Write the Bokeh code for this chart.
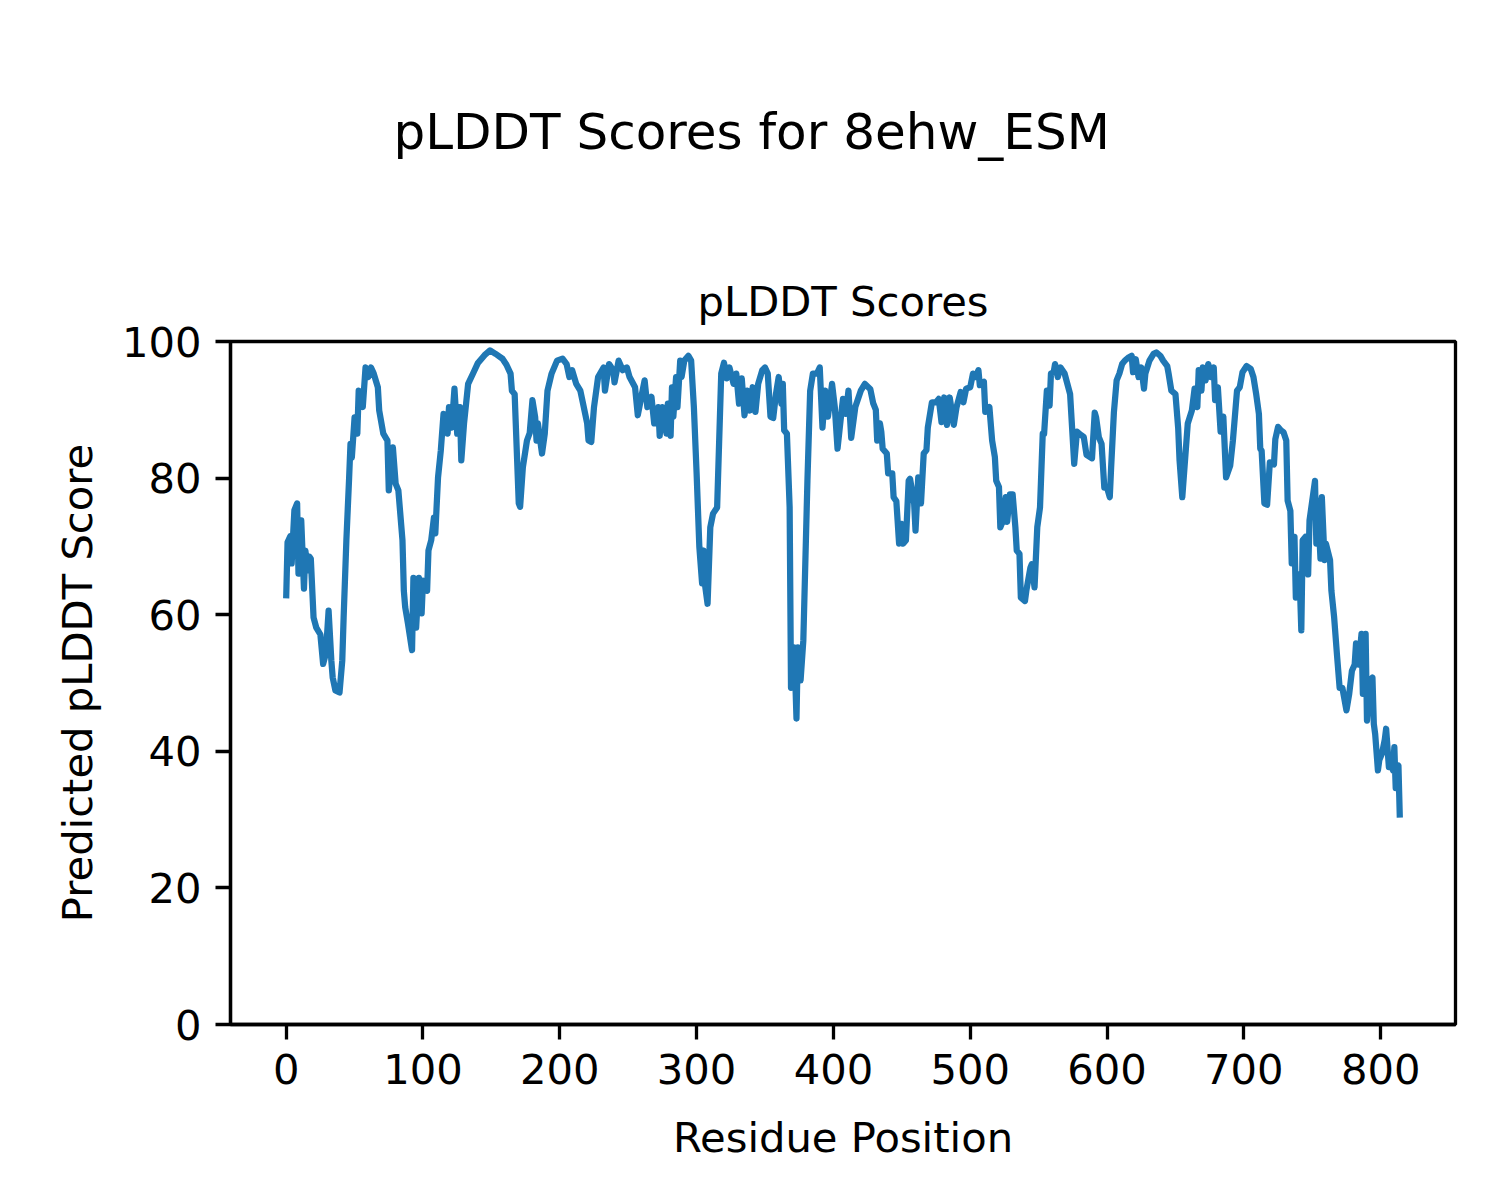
from bokeh.plotting import figure
from bokeh.models import Range1d, FixedTicker, Title, ColumnDataSource
from bokeh.embed import file_html
from bokeh.resources import INLINE

# ---- data ----
residues = [
    0, 1, 3, 4, 6, 8, 9, 10, 11, 13, 14, 16, 17, 18, 20, 22, 25, 27, 29, 31,
    33, 34, 36, 39, 41, 42, 44, 46, 47, 48, 50, 52, 53, 56, 58, 60, 62, 64, 67, 68,
    71, 74, 75, 78, 80, 82, 85, 86, 87, 89, 92, 93, 95, 97, 99, 100, 103, 104, 106, 108,
    109, 111, 113, 115, 118, 119, 121, 123, 125, 127, 128, 130, 133, 137, 140, 145, 149, 153, 158, 161,
    164, 165, 167, 170, 171, 173, 176, 178, 180, 182, 183, 184, 187, 189, 191, 194, 198, 202, 205, 207,
    209, 212, 215, 217, 220, 221, 223, 225, 228, 232, 233, 236, 239, 240, 243, 246, 249, 251, 255, 257,
    260, 262, 264, 267, 269, 272, 273, 275, 278, 279, 281, 282, 283, 285, 286, 288, 289, 291, 294, 296,
    298, 300, 302, 304, 305, 306, 308, 310, 312, 315, 318, 320, 322, 324, 327, 329, 331, 333, 335, 337,
    339, 341, 343, 345, 348, 350, 352, 354, 356, 358, 360, 362, 363, 364, 366, 368, 369, 371, 372, 373,
    374, 376, 378, 381, 383, 385, 388, 390, 392, 394, 396, 399, 401, 403, 406, 407, 409, 411, 413, 416,
    420, 423, 427, 429, 431, 432, 434, 435, 436, 439, 440, 443, 444, 446, 448, 450, 451, 453, 455, 456,
    459, 460, 462, 464, 466, 468, 469, 472, 475, 477, 479, 481, 483, 485, 488, 490, 493, 495, 497, 500,
    502, 504, 506, 507, 510, 511, 514, 516, 518, 519, 521, 522, 524, 526, 527, 529, 531, 533, 534, 536,
    537, 540, 541, 544, 545, 547, 549, 551, 553, 554, 556, 558, 559, 561, 562, 564, 566, 569, 571, 573,
    575, 576, 578, 581, 583, 585, 589, 591, 592, 594, 596, 598, 600, 602, 603, 605, 607, 609, 611, 613,
    616, 618, 619, 621, 623, 625, 627, 628, 631, 634, 636, 639, 641, 644, 645, 647, 650, 652, 653, 655,
    657, 659, 662, 664, 666, 667, 669, 670, 672, 674, 676, 678, 679, 681, 683, 685, 687, 690, 692, 695,
    697, 699, 702, 705, 707, 709, 711, 712, 713, 715, 717, 719, 722, 723, 725, 727, 729, 731, 732, 734,
    735, 737, 738, 740, 741, 742, 743, 745, 747, 748, 750, 752, 753, 754, 756, 757, 759, 760, 763, 764,
    766, 768, 770, 772, 775, 777, 779, 781, 782, 784, 786, 787, 789, 790, 792, 794, 795, 796, 798, 799,
    801, 803, 804, 806, 807, 809, 810, 811, 812, 813, 814,
]
plddt = [
    62.4, 70.6, 71.5, 67.5, 75.3, 76.3, 66.0, 70.0, 73.8, 63.8, 69.4, 66.5, 68.5, 68.2, 59.6, 58.1, 57.1, 52.8, 54.3, 60.6,
    53.3, 50.8, 48.9, 48.6, 53.3, 59.6, 70.9, 80.0, 85.0, 83.0, 88.9, 86.5, 92.8, 90.4, 96.2, 94.8, 96.2, 95.3, 93.3, 89.9,
    86.5, 85.5, 78.2, 84.5, 79.2, 78.2, 70.9, 63.5, 61.1, 58.7, 54.8, 65.4, 58.1, 65.4, 60.2, 65.0, 63.5, 69.4, 70.9, 74.2,
    71.9, 80.1, 84.0, 89.4, 86.5, 90.4, 87.4, 93.1, 86.5, 90.4, 82.6, 88.0, 93.8, 95.5, 96.8, 98.0, 98.7, 98.2, 97.5, 96.6,
    95.3, 92.8, 92.3, 76.3, 75.8, 81.6, 85.5, 86.6, 91.4, 88.9, 85.5, 88.0, 83.6, 86.5, 92.8, 95.3, 97.2, 97.5, 96.7, 94.8,
    95.8, 93.8, 92.8, 90.9, 88.0, 85.5, 85.3, 90.4, 94.8, 96.2, 92.8, 96.7, 95.8, 94.0, 97.2, 95.8, 96.2, 94.8, 93.3, 89.2,
    92.3, 94.3, 90.4, 91.9, 88.0, 90.4, 86.2, 90.4, 86.5, 90.9, 86.2, 93.3, 89.0, 94.8, 90.4, 97.2, 94.8, 97.2, 97.9, 97.2,
    90.4, 80.7, 69.9, 64.6, 69.4, 64.6, 61.6, 72.8, 74.8, 75.7, 95.3, 96.9, 94.6, 96.2, 93.8, 95.3, 90.9, 94.6, 89.2, 92.8,
    89.9, 93.3, 89.7, 93.8, 95.8, 96.2, 95.3, 89.0, 88.8, 92.3, 94.8, 90.9, 93.8, 87.0, 86.5, 75.7, 49.3, 55.2, 51.3, 44.8,
    55.2, 50.4, 56.2, 79.6, 92.8, 95.3, 95.3, 96.2, 87.4, 92.8, 89.0, 93.8, 90.4, 84.3, 89.9, 91.6, 89.4, 92.8, 85.9, 90.4,
    92.8, 93.8, 93.0, 91.0, 90.0, 85.5, 88.0, 86.8, 84.3, 83.6, 80.7, 80.7, 77.2, 76.6, 70.4, 73.3, 70.4, 70.9, 79.6, 79.9,
    76.3, 72.3, 80.1, 76.3, 83.6, 84.1, 87.4, 91.1, 91.1, 91.6, 88.2, 91.8, 87.8, 91.8, 87.8, 90.4, 92.6, 91.1, 93.1, 93.3,
    95.3, 94.8, 95.8, 93.6, 94.1, 89.7, 90.4, 85.5, 83.1, 79.6, 78.7, 72.8, 73.8, 77.2, 73.6, 77.6, 77.6, 72.8, 69.4, 68.9,
    62.5, 62.0, 63.5, 66.9, 67.4, 64.0, 72.8, 75.7, 86.5, 86.5, 92.8, 90.6, 95.3, 95.5, 96.7, 94.8, 96.2, 95.3, 93.8, 92.3,
    85.5, 82.1, 86.8, 86.3, 86.0, 83.4, 82.9, 89.6, 88.9, 86.0, 85.0, 78.6, 78.6, 77.2, 81.6, 89.6, 94.3, 95.3, 96.7, 97.2,
    97.7, 97.9, 95.5, 97.4, 94.8, 96.2, 93.1, 95.3, 97.2, 98.2, 98.4, 97.9, 97.2, 96.4, 95.3, 92.8, 92.3, 87.3, 82.6, 77.2,
    82.6, 88.0, 89.9, 93.1, 90.4, 95.8, 92.8, 96.2, 94.3, 96.7, 94.8, 96.2, 91.4, 93.3, 86.8, 89.0, 80.1, 81.8, 85.5, 92.8,
    93.3, 95.5, 96.4, 96.0, 94.8, 92.3, 89.4, 84.3, 84.0, 76.3, 76.1, 82.3, 82.0, 85.7, 87.5, 87.0, 86.7, 85.5, 76.7, 75.2,
    67.5, 71.4, 62.5, 65.9, 64.0, 57.7, 70.9, 71.4, 65.9, 73.8, 76.7, 79.6, 70.4, 76.7, 68.2, 77.2, 68.0, 70.4, 68.0, 63.5,
    59.6, 54.3, 49.3, 49.3, 46.0, 48.4, 51.8, 52.7, 55.8, 52.7, 57.2, 48.4, 57.2, 44.5, 50.2, 50.8, 44.0, 42.5, 37.2, 38.7,
    39.7, 41.7, 43.3, 37.7, 38.5, 37.2, 40.6, 34.6, 37.7, 37.9, 30.3,
]
x_ticks = [0, 100, 200, 300, 400, 500, 600, 700, 800]
y_ticks = [0, 20, 40, 60, 80, 100]

suptitle_text = "pLDDT Scores for 8ehw_ESM"
title_text = "pLDDT Scores"
x_label = "Residue Position"
y_label = "Predicted pLDDT Score"

# ---- figure ----
FONT = "DejaVu Sans"
n_span = residues[-1] - residues[0]
pad = 0.05 * n_span

W, H = 1480, 1180
FRAME_L, FRAME_T, FRAME_R, FRAME_B = 230, 341, 1455, 1024
p = figure(
    width=W, height=H, output_backend="svg", toolbar_location=None,
    x_range=Range1d(residues[0] - pad, residues[-1] + pad),
    y_range=Range1d(0, 100),
    min_border_left=FRAME_L, min_border_right=W - FRAME_R,
    min_border_top=FRAME_T, min_border_bottom=H - FRAME_B,
    background_fill_color="white", border_fill_color="white",
)

src = ColumnDataSource(data=dict(x=residues, y=plddt))
p.line("x", "y", source=src, line_color="#1f77b4", line_width=6.25, line_join="round")

p.xgrid.visible = False
p.ygrid.visible = False
p.outline_line_color = "black"
p.outline_line_width = 3.3

p.xaxis.ticker = FixedTicker(ticks=x_ticks)
p.yaxis.ticker = FixedTicker(ticks=y_ticks)
for ax in (p.xaxis, p.yaxis):
    ax.axis_line_width = 3.3
    ax.axis_line_color = "black"
    ax.major_tick_line_width = 3.3
    ax.major_tick_line_color = "black"
    ax.major_tick_out = 15
    ax.major_tick_in = 0
    ax.minor_tick_line_color = None
    ax.major_label_text_font = FONT
    ax.major_label_text_font_size = "41.7px"
    ax.major_label_text_color = "black"
    ax.major_label_standoff = 14
    ax.axis_label_text_font = FONT
    ax.axis_label_text_font_size = "41.7px"
    ax.axis_label_text_font_style = "normal"
    ax.axis_label_text_color = "black"

p.xaxis.axis_label = x_label
p.yaxis.axis_label = y_label
p.xaxis.axis_label_standoff = 26
p.yaxis.axis_label_standoff = 17

# outer title: figure suptitle (centred on the whole figure)
p.title.text = suptitle_text
p.title.text_font = FONT
p.title.text_font_size = "50px"
p.title.text_font_style = "normal"
p.title.text_color = "black"
p.title.align = "left"
p.title.offset = 163
p.title.standoff = 198

# inner title: axes title (centred on the frame)
sub = Title(text=title_text, text_font=FONT, text_font_size="41.7px",
            text_font_style="normal", text_color="black", align="center",
            standoff=31)
p.add_layout(sub, "above")

open("out.html", "w").write(file_html(p, INLINE))
